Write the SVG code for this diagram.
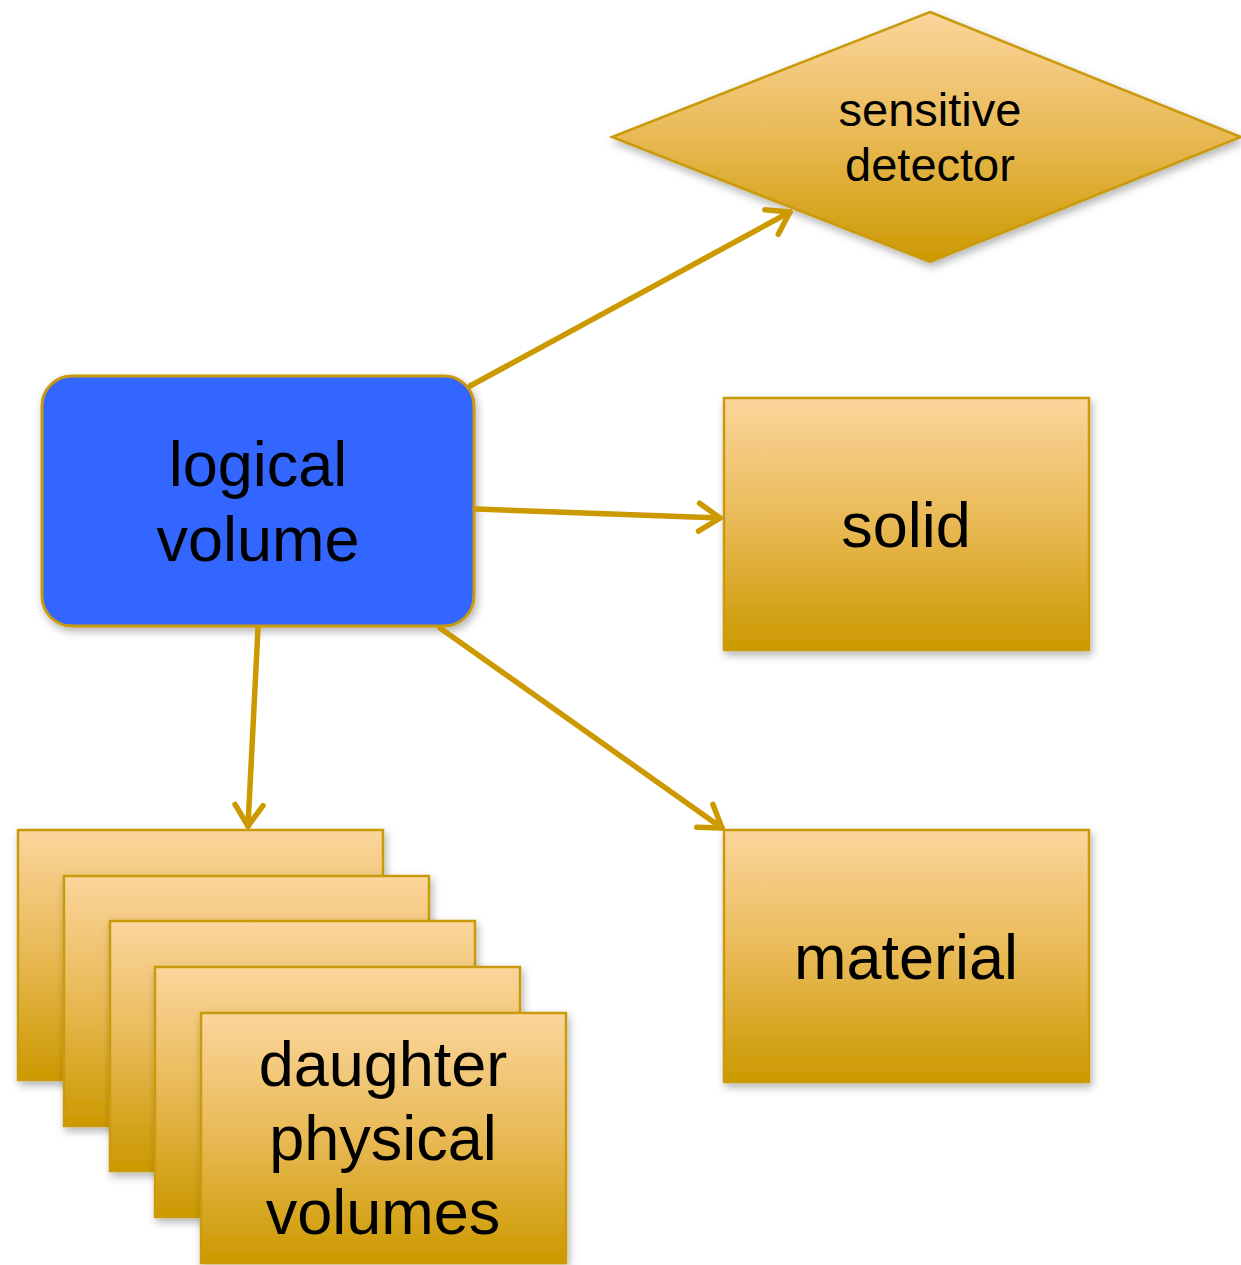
<svg xmlns="http://www.w3.org/2000/svg" width="1241" height="1265" viewBox="0 0 1241 1265">
<style>
.gold{fill:url(#g);stroke:#C99A0A;stroke-width:2.5;filter:url(#sh)}
.lv{fill:#3366FF;stroke:#C99A0A;stroke-width:3;filter:url(#sh)}
.t{font-family:"Liberation Sans",Arial,sans-serif;fill:#000;text-anchor:middle}
.conn{fill:none;stroke:#CC9900;stroke-width:5.5;stroke-linecap:round;marker-end:url(#ah)}
</style>
<defs>
<linearGradient id="g" x1="0" y1="0" x2="0" y2="1">
<stop offset="0" stop-color="#FBD59C"/>
<stop offset="0.5" stop-color="#E8B954"/>
<stop offset="1" stop-color="#CC9900"/>
</linearGradient>
<filter id="sh" x="-10%" y="-10%" width="130%" height="130%">
<feDropShadow dx="2" dy="4" stdDeviation="4" flood-color="#000" flood-opacity="0.3"/>
</filter>
<marker id="ah" markerUnits="userSpaceOnUse" viewBox="0 0 32 32" markerWidth="32" markerHeight="32" refX="28" refY="16" orient="auto" overflow="visible">
<path d="M7,2 L28,16 L7,30" fill="none" stroke="#CC9900" stroke-width="5.5" stroke-linecap="round" stroke-linejoin="round"/>
</marker>
</defs>

<g id="sensitive-detector">
<polygon class="gold" points="930,12 1241,137 930,262 612,137"/>
<text class="t" x="930" y="126" font-size="47">sensitive</text>
<text class="t" x="930" y="181" font-size="47">detector</text>
</g>

<g id="logical-volume">
<rect class="lv" x="42" y="376" width="432" height="250" rx="30"/>
<text class="t" x="258" y="486" font-size="63">logical</text>
<text class="t" x="258" y="561" font-size="63">volume</text>
</g>

<g id="solid">
<rect class="gold" x="724" y="398" width="365" height="252"/>
<text class="t" x="906" y="547" font-size="63">solid</text>
</g>

<g id="material">
<rect class="gold" x="724" y="830" width="365" height="252"/>
<text class="t" x="906" y="979" font-size="63">material</text>
</g>

<g id="daughter-physical-volumes">
<rect class="gold" x="18" y="830" width="365" height="250"/>
<rect class="gold" x="64" y="876" width="365" height="250"/>
<rect class="gold" x="110" y="921" width="365" height="250"/>
<rect class="gold" x="155" y="967" width="365" height="250"/>
<rect class="gold" x="201" y="1013" width="365" height="250"/>
<text class="t" x="383" y="1086" font-size="63">daughter</text>
<text class="t" x="383" y="1160" font-size="63">physical</text>
<text class="t" x="383" y="1234" font-size="63">volumes</text>
</g>

<g id="connectors">
<line class="conn" x1="470" y1="386" x2="790" y2="212"/>
<line class="conn" x1="476" y1="509" x2="720" y2="518"/>
<line class="conn" x1="440" y1="628" x2="722" y2="828"/>
<line class="conn" x1="258" y1="628" x2="248" y2="826"/>
</g>
</svg>
